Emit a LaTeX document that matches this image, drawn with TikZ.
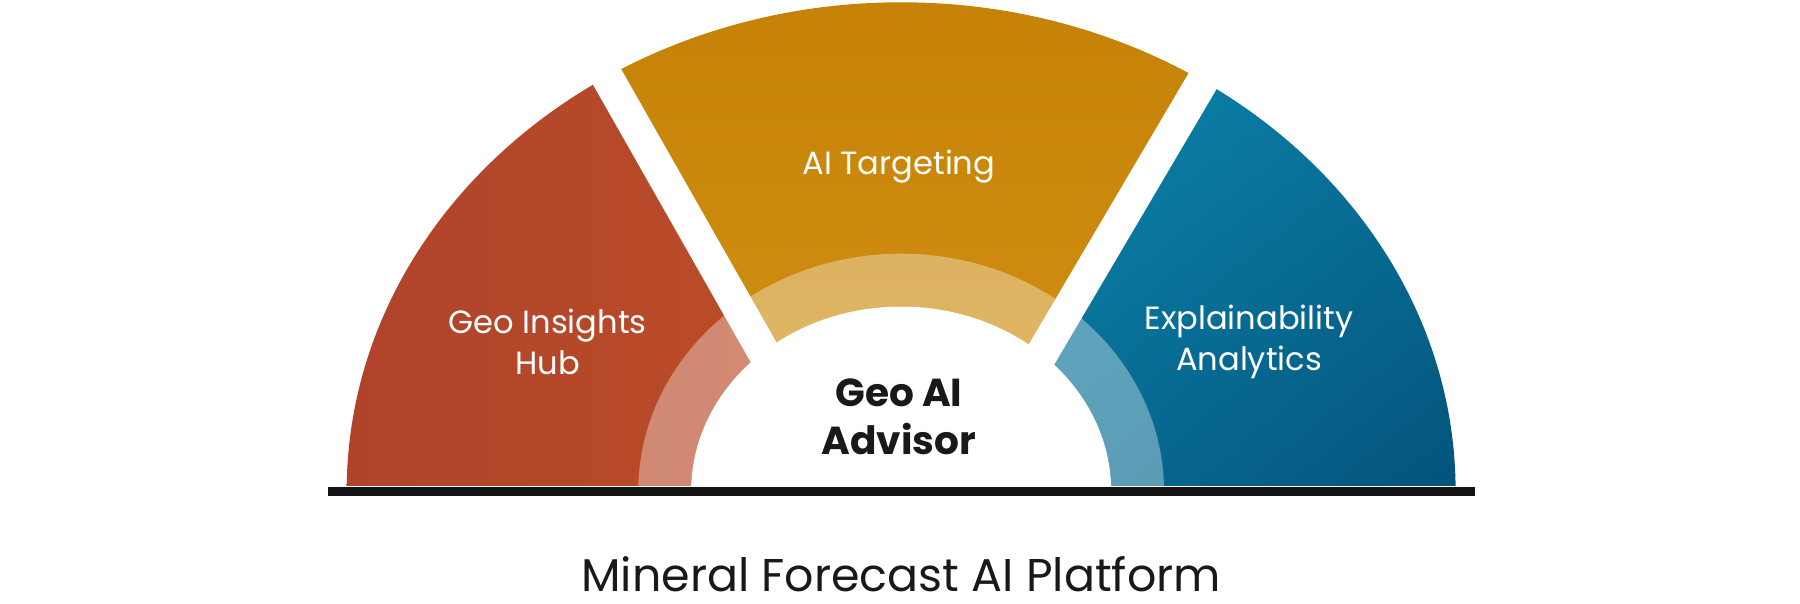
\documentclass[tikz,border=0pt]{standalone}
\usepackage{fontspec}
\usetikzlibrary{shadings}
\setmainfont{Poppins}
\begin{document}
\begin{tikzpicture}[x=1pt,y=-1pt,
  lbl/.style={text=white,align=center,font=\fontsize{28}{36}\selectfont}]
\useasboundingbox (0,0) rectangle (1568,526);
\definecolor{lA}{HTML}{B0432A}\definecolor{lB}{HTML}{CC5C28}
\definecolor{mA}{HTML}{C58206}\definecolor{mB}{HTML}{E0A024}
\definecolor{rA}{HTML}{0C8DB5}\definecolor{rB}{HTML}{04527A}
\begin{scope}
\clip (0,0) rectangle (1568,423);
\begin{scope}
\clip (0,-10) -- (485,-10) -- (735,430) -- (0,430) -- cycle;
\shade[left color=lA,right color=lB] (785,428) ellipse [x radius=483pt,y radius=426pt];
\end{scope}
\begin{scope}
\clip (485,-10) -- (1095,-10) -- (836,430) -- (735,430) -- cycle;
\shade[top color=mA,bottom color=mB] (785,428) ellipse [x radius=483pt,y radius=426pt];
\end{scope}
\begin{scope}
\clip (1568,-10) -- (1095,-10) -- (836,430) -- (1568,430) -- cycle;
\clip (785,428) ellipse [x radius=483pt,y radius=426pt];
\shade[upper left=rA,upper right=rA!60!rB,lower left=rA!50!rB,lower right=rB] (836,0) rectangle (1280,430);
\end{scope}
\fill[white,opacity=0.35,even odd rule] (785,428) ellipse [x radius=229pt,y radius=207pt]
  (785,428) ellipse [x radius=183pt,y radius=161pt];
\fill[white] (785,428) ellipse [x radius=183pt,y radius=161pt];
\coordinate (g1a) at (522,55); \coordinate (g1b) at (680,333);
\coordinate (g2a) at (1058,53); \coordinate (g2b) at (893,333);
\draw[white,line width=28pt] (g1a) -- (g1b);
\draw[white,line width=28pt] (g2a) -- (g2b);
\end{scope}
\fill[black!92] (286,424) rectangle (1285,432);
\node[lbl] (t1) at (477,298) {Geo Insights\\Hub};
\node[lbl] (t2) at (783,145) {AI Targeting};
\node[lbl] (t3) at (1088,298) {Explainability\\Analytics};
\node[font=\fontsize{34}{42}\selectfont\bfseries,align=center,text=black!90] (c) at (783,363) {Geo AI\\Advisor};
\node[font=\fontsize{40}{48}\selectfont,text=black!90] (title) at (785,500) {Mineral Forecast AI Platform};
\end{tikzpicture}
\end{document}
